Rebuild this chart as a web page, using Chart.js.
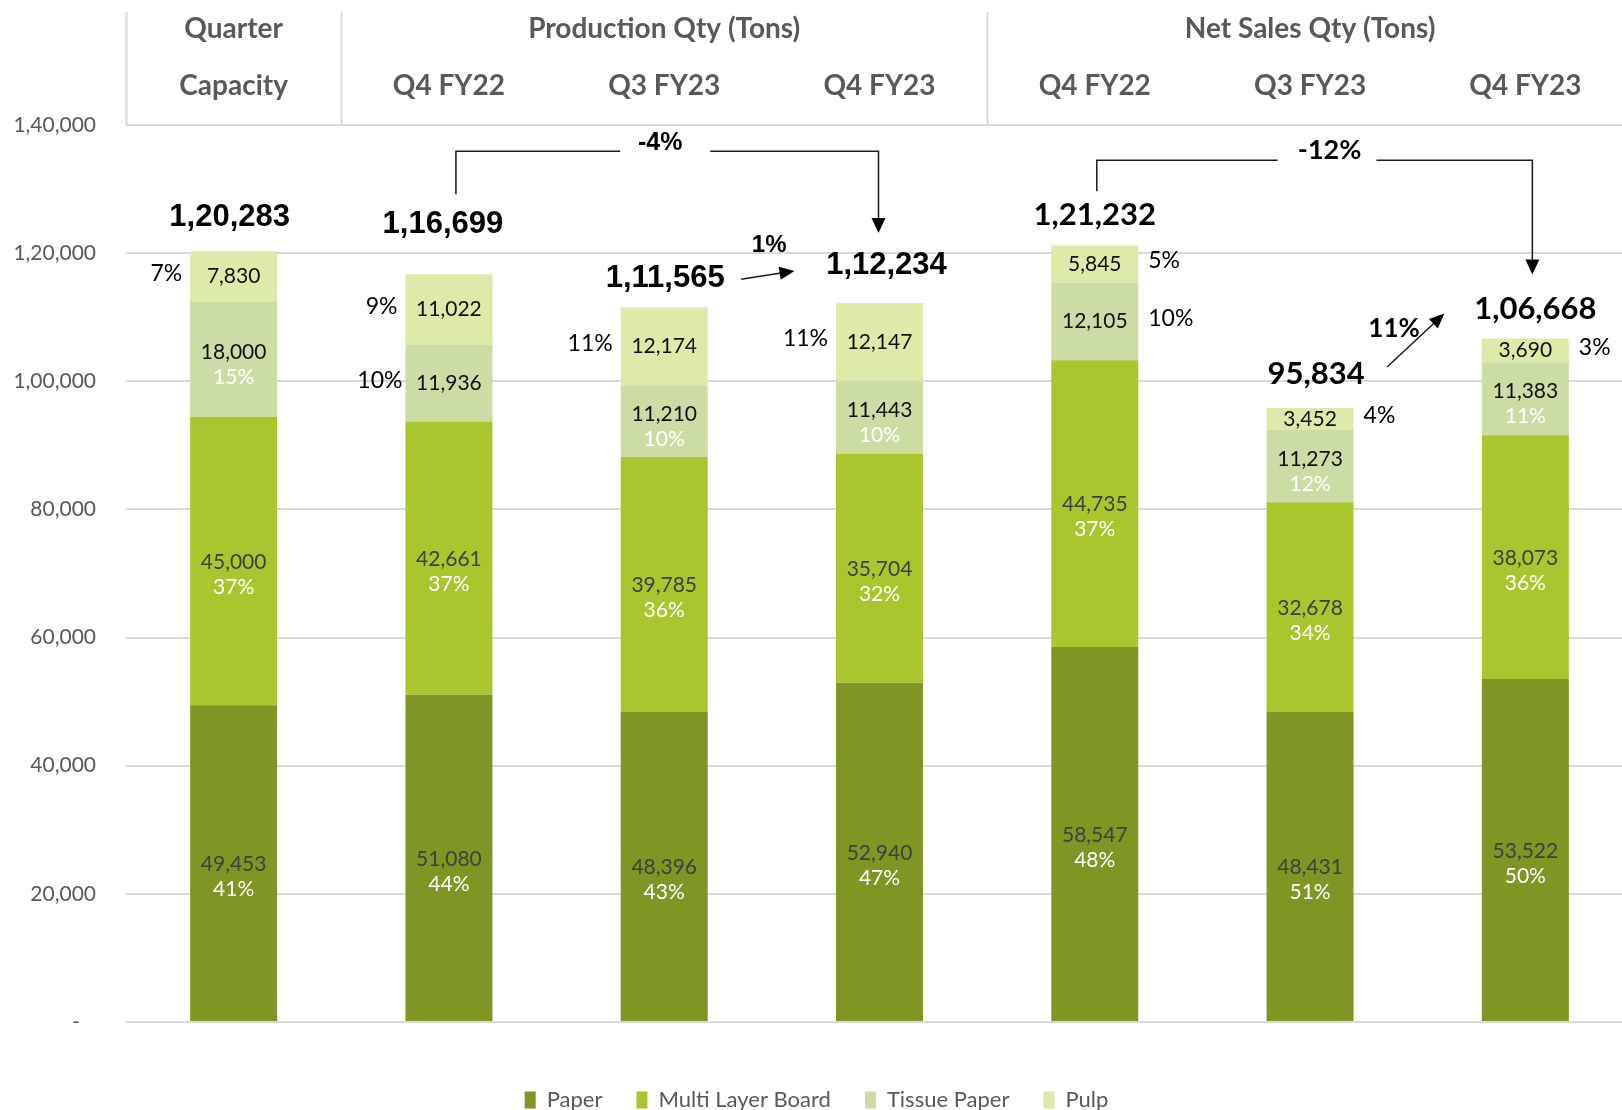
<!DOCTYPE html>
<html><head><meta charset="utf-8">
<script src="https://cdn.jsdelivr.net/npm/chart.js@4/dist/chart.umd.min.js"></script>
<style>html,body{margin:0;padding:0;background:#fff;overflow:hidden;width:1622px;height:1110px}#wrap{width:1633px;height:1110px}</style>
</head><body><div id="wrap"><canvas id="c" width="1633" height="1110"></canvas></div>
<script>
// ---- data ----
const categories = ['Capacity','Q4 FY22','Q3 FY23','Q4 FY23','Q4 FY22','Q3 FY23','Q4 FY23'];
const groupLabels = ['Quarter','Production Qty (Tons)','Net Sales Qty (Tons)'];
const groupSpans = [1,3,3];
const seriesNames = ['Paper','Multi Layer Board','Tissue Paper','Pulp'];
const paper = [49453,51080,48396,52940,58547,48431,53522];
const multiLayerBoard = [45000,42661,39785,35704,44735,32678,38073];
const tissuePaper = [18000,11936,11210,11443,12105,11273,11383];
const pulp = [7830,11022,12174,12147,5845,3452,3690];
const paperPct = [41,44,43,47,48,51,50];
const mlbPct = [37,37,36,32,37,34,36];
const tissuePct = [15,10,10,10,10,12,11];
const pulpPct = [7,9,11,11,5,4,3];
const totals = [120283,116699,111565,112234,121232,95834,106668];
const yTicks = [0,20000,40000,60000,80000,100000,120000,140000];
// change annotations: [from index, to index, label]
const changeBrackets = [[1,3,'-4%'],[4,6,'-12%']];
const changeArrows = [[2,3,'1%'],[5,6,'11%']];

// ---- styles ----
const colors = ['#7E9624','#A8C72F','#CBDCA4','#DEEAA9'];
const LATO = 'Lato, "Open Sans", sans-serif';
const ARIAL = '"Liberation Sans", Arial, sans-serif';
const tissuePctPos = ['in','left','in','in','right','in','in'];
const pulpPctPos = ['left','left','left','left','right','right','right'];
const totalOffY = [34,50,29,37,30,34,30];
const totalOffX = [-4,-6,1,7,0,6,10];
const totalFont = [ARIAL,ARIAL,ARIAL,ARIAL,LATO,LATO,LATO];

function fmtIN(n){
  const s=String(Math.round(n));
  if(s.length<=3) return s;
  const last3=s.slice(-3); let rest=s.slice(0,-3); const parts=[];
  while(rest.length>2){parts.unshift(rest.slice(-2)); rest=rest.slice(0,-2);}
  if(rest) parts.unshift(rest);
  return parts.join(',')+','+last3;
}

function arrowHead(ctx, x1,y1,x2,y2,len,w){
  const a=Math.atan2(y2-y1,x2-x1);
  ctx.beginPath();
  ctx.moveTo(x2,y2);
  ctx.lineTo(x2-len*Math.cos(a)+w/2*Math.sin(a), y2-len*Math.sin(a)-w/2*Math.cos(a));
  ctx.lineTo(x2-len*Math.cos(a)-w/2*Math.sin(a), y2-len*Math.sin(a)+w/2*Math.cos(a));
  ctx.closePath(); ctx.fill();
}

const headerPlugin = {
  id:'header',
  afterDraw(chart){
    const ctx=chart.ctx, xs=chart.scales.x, ca=chart.chartArea;
    const xc = i=>xs.getPixelForValue(i);
    ctx.save();
    ctx.strokeStyle='#d9d9d9'; ctx.lineWidth=2;
    const bounds=[ca.left]; let idx=0;
    groupSpans.forEach((s,g)=>{ if(g>0) bounds.push((xc(idx-1)+xc(idx))/2); idx+=s; });
    bounds.forEach(b=>{ctx.beginPath();ctx.moveTo(Math.round(b)+0.5,12);ctx.lineTo(Math.round(b)+0.5,ca.top);ctx.stroke();});
    ctx.fillStyle='#595959'; ctx.font='bold 28px '+LATO; ctx.textAlign='center'; ctx.textBaseline='middle';
    idx=0;
    groupSpans.forEach((s,g)=>{
      const cx=(xc(idx)+xc(idx+s-1))/2;
      ctx.fillText(groupLabels[g],cx,29);
      idx+=s;
    });
    categories.forEach((c,i)=>ctx.fillText(c,xc(i),86));
    ctx.restore();
  }
};

const labelPlugin = {
  id:'labels',
  afterDatasetsDraw(chart){
    const ctx=chart.ctx;
    const metas=[0,1,2,3].map(i=>chart.getDatasetMeta(i));
    const pcts=[paperPct,mlbPct,tissuePct,pulpPct];
    ctx.save();
    ctx.textBaseline='middle';
    categories.forEach((c,j)=>{
      for(let s=0;s<4;s++){
        const el=metas[s].data[j];
        const cy=(el.y+el.base)/2, x=el.x, half=el.width/2;
        const val=fmtIN(chart.data.datasets[s].data[j]);
        const pct=pcts[s][j]+'%';
        ctx.font='21px '+LATO; ctx.textAlign='center';
        if(s<2){
          ctx.fillStyle='#404040'; ctx.fillText(val,x,cy+1);
          ctx.fillStyle='#ffffff'; ctx.fillText(pct,x,cy+26);
        } else {
          const pos = s===2 ? tissuePctPos[j] : pulpPctPos[j];
          if(pos==='in'){
            ctx.fillStyle='#111'; ctx.fillText(val,x,cy-7);
            ctx.fillStyle='#ffffff'; ctx.fillText(pct,x,cy+18);
          } else {
            ctx.fillStyle='#111'; ctx.fillText(val,x,cy);
            ctx.font='23px '+LATO; ctx.fillStyle='#000';
            if(pos==='left'){ctx.textAlign='right'; ctx.fillText(pct,x-half-(s===2?3:8),cy-3);}
            else {ctx.textAlign='left'; ctx.fillText(pct,x+half+10,cy-3);}
          }
        }
      }
      const top=metas[3].data[j].y;
      ctx.font='bold 31px '+totalFont[j]; ctx.fillStyle='#000'; ctx.textAlign='center';
      ctx.fillText(fmtIN(totals[j]), metas[3].data[j].x+totalOffX[j], top-totalOffY[j]);
    });

    // change annotations
    const X=i=>metas[3].data[i].x, T=i=>metas[3].data[i].y;
    ctx.strokeStyle='#1a1a1a'; ctx.fillStyle='#000'; ctx.lineWidth=1.5;
    const bstyle=[{lx:7,ys:80,yh:123,rx:-1,tip:70,tdx:-7,tdy:8,g1:40,g2:50,font:'bold 25px '+ARIAL},
                  {lx:2,ys:54,yh:85,rx:7,tip:64,tdx:15,tdy:10,g1:52,g2:47,font:'bold 27px '+LATO}];
    changeBrackets.forEach(([a,b,lab],k)=>{
      const st=bstyle[k];
      const lx=X(a)+st.lx, rx=X(b)+st.rx, yh=T(a)-st.yh, ys=T(a)-st.ys, tip=T(b)-st.tip;
      const tx=(lx+rx)/2+st.tdx;
      ctx.beginPath(); ctx.moveTo(lx,ys); ctx.lineTo(lx,yh); ctx.lineTo(tx-st.g1,yh); ctx.stroke();
      ctx.beginPath(); ctx.moveTo(tx+st.g2,yh); ctx.lineTo(rx,yh); ctx.lineTo(rx,tip-14); ctx.stroke();
      arrowHead(ctx,rx,yh,rx,tip,15,14);
      ctx.font=st.font; ctx.textAlign='center'; ctx.fillStyle='#000';
      ctx.fillText(lab,tx,yh-st.tdy);
    });
    const astyle=[{sx:77,sy:28,ex:-85,ey:32,tx:105,ty:62,font:'bold 24px '+ARIAL},
                  {sx:77,sy:41,ex:-81,ey:25,tx:84,ty:79,font:'bold 26px '+LATO}];
    changeArrows.forEach(([a,b,lab],k)=>{
      const st=astyle[k];
      const x1=X(a)+st.sx, y1=T(a)-st.sy, x2=X(b)+st.ex, y2=T(b)-st.ey;
      const ang=Math.atan2(y2-y1,x2-x1);
      ctx.beginPath(); ctx.moveTo(x1,y1); ctx.lineTo(x2-12*Math.cos(ang),y2-12*Math.sin(ang)); ctx.stroke();
      arrowHead(ctx,x1,y1,x2,y2,15,13);
      ctx.font=st.font; ctx.textAlign='center';
      ctx.fillText(lab,X(a)+st.tx,T(a)-st.ty);
    });
    ctx.restore();
  }
};

const seriesData=[paper,multiLayerBoard,tissuePaper,pulp];
new Chart(document.getElementById('c'),{
  type:'bar',
  data:{
    labels:categories,
    datasets:seriesData.map((d,i)=>({label:seriesNames[i],data:d,backgroundColor:colors[i],borderWidth:0,
      barPercentage:0.404,categoryPercentage:1}))
  },
  options:{
    responsive:false, animation:false, devicePixelRatio:1,
    layout:{padding:{top:125,left:0,right:0,bottom:-11}},
    plugins:{
      legend:{position:'bottom',labels:{font:{family:LATO,size:22},color:'#595959',boxWidth:11,boxHeight:17,padding:34}},
      tooltip:{enabled:false}
    },
    scales:{
      x:{stacked:true,ticks:{display:false},grid:{display:false},border:{display:false},
         afterFit:s=>{s.height=33;}},
      y:{stacked:true,min:0,max:140000,
         afterBuildTicks:s=>{s.ticks=yTicks.map(v=>({value:v}));},
         afterFit:s=>{s.width=126;},
         ticks:{padding:30,color:'#595959',font:{family:LATO,size:21},callback:v=>v===0?'-   ':fmtIN(v)},
         grid:{color:'#d9d9d9',lineWidth:2,drawTicks:false},border:{display:false}}
    }
  },
  plugins:[headerPlugin,labelPlugin]
});
</script></body></html>
